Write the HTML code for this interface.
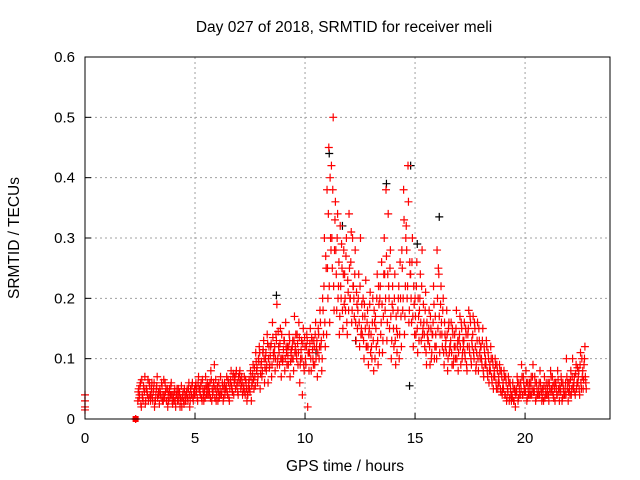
<!DOCTYPE html>
<html><head><meta charset="utf-8"><style>
body{margin:0;background:#fff;}
svg{display:block;font-family:"Liberation Sans",sans-serif;}
</style></head><body>
<svg id="chart" width="640" height="480" viewBox="0 0 640 480">
<text x="344" y="32" font-size="15.5" text-anchor="middle">Day 027 of 2018, SRMTID for receiver meli</text>
<text transform="translate(19,238) rotate(-90)" font-size="15.5" text-anchor="middle">SRMTID / TECUs</text>
<text x="345" y="471" font-size="15.5" text-anchor="middle">GPS time / hours</text>
<g id="grid"></g><g id="ticks"></g><g id="marks"></g>
<rect x="85" y="57" width="525" height="362" fill="none" stroke="#000" stroke-width="1"/>
</svg>
<script>
const xTicks=[0,5,10,15,20];
const yTicks=[0,0.1,0.2,0.3,0.4,0.5,0.6];
const yTickLabels=["0","0.1","0.2","0.3","0.4","0.5","0.6"];
const binHours=[2.4,2.6,2.8,3.0,3.2,3.4,3.6,3.8,4.0,4.2,4.4,4.6,4.8,5.0,5.2,5.4,5.6,5.8,6.0,6.2,6.4,6.6,6.8,7.0,7.2,7.4,7.6,7.8,8.0,8.2,8.4,8.6,8.8,9.0,9.2,9.4,9.6,9.8,10.0,10.2,10.4,10.6,10.8,11.0,11.2,11.4,11.6,11.8,12.0,12.2,12.4,12.6,12.8,13.0,13.2,13.4,13.6,13.8,14.0,14.2,14.4,14.6,14.8,15.0,15.2,15.4,15.6,15.8,16.0,16.2,16.4,16.6,16.8,17.0,17.2,17.4,17.6,17.8,18.0,18.2,18.4,18.6,18.8,19.0,19.2,19.4,19.6,19.8,20.0,20.2,20.4,20.6,20.8,21.0,21.2,21.4,21.6,21.8,22.0,22.2,22.4,22.6];
const binValues=[
[.03,.05,.04,.06,.02],[.04,.03,.05,.07,.03],[.05,.04,.03,.06,.04],[.04,.06,.03,.05,.02],[.03,.05,.07,.04,.04],
[.05,.04,.06,.03,.03],[.04,.06,.05,.03,.02],[.03,.05,.04,.06,.03],[.04,.03,.05,.02,.04],[.03,.05,.04,.02,.03],
[.02,.04,.03,.05,.03],[.04,.05,.03,.06,.02],[.05,.04,.06,.03,.04],[.04,.06,.05,.03,.07],[.05,.04,.06,.03,.05],
[.03,.05,.07,.04,.06],[.05,.04,.06,.08,.03],[.04,.06,.09,.05,.03],[.05,.03,.06,.04,.07],[.04,.06,.03,.05,.04],
[.05,.07,.04,.06,.03],[.06,.08,.05,.07,.04],[.07,.05,.08,.06,.04],[.06,.08,.05,.07,.04],[.05,.07,.04,.06,.03],
[.04,.06,.05,.08,.03],[.06,.09,.05,.07,.11],[.08,.06,.10,.12,.05],[.09,.07,.11,.13,.06],[.10,.08,.14,.06,.12],
[.09,.12,.07,.16,.11],[.11,.08,.14,.19,.10],[.12,.09,.15,.07,.10],[.10,.13,.08,.16,.11],[.12,.09,.14,.07,.11],
[.10,.13,.08,.17,.12],[.11,.14,.09,.16,.06],[.10,.13,.04,.15,.08],[.12,.09,.14,.02,.11],[.11,.15,.08,.13,.10],
[.13,.09,.16,.12,.07],[.15,.10,.18,.12,.08],[.20,.14,.30,.12,.25],[.38,.20,.45,.16,.30],[.42,.25,.50,.18,.33],
[.28,.18,.34,.22,.14],[.32,.20,.25,.15,.28],[.24,.18,.30,.14,.21],[.34,.20,.26,.16,.30],[.22,.17,.28,.13,.19],
[.18,.24,.12,.30,.15],[.14,.20,.10,.17,.23],[.12,.18,.09,.15,.21],[.14,.10,.20,.08,.16],[.17,.12,.24,.09,.19],
[.20,.14,.26,.11,.17],[.30,.18,.38,.13,.24],[.22,.15,.28,.10,.19],[.18,.12,.24,.09,.15],[.14,.20,.10,.26,.17],
[.28,.18,.38,.14,.22],[.32,.20,.42,.16,.26],[.24,.16,.30,.12,.19],[.20,.14,.26,.11,.17],[.18,.24,.13,.28,.15],
[.16,.12,.21,.09,.14],[.13,.18,.09,.15,.11],[.14,.22,.10,.17,.12],[.28,.15,.24,.11,.19],[.16,.12,.20,.09,.14],
[.13,.18,.08,.15,.11],[.12,.16,.09,.14,.10],[.14,.10,.18,.12,.08],[.13,.17,.09,.15,.11],[.12,.16,.10,.14,.08],
[.14,.18,.11,.16,.09],[.12,.17,.10,.15,.08],[.11,.16,.08,.13,.10],[.12,.09,.15,.07,.11],[.10,.13,.08,.11,.06],
[.09,.12,.07,.10,.05],[.08,.10,.06,.09,.05],[.07,.09,.05,.08,.04],[.06,.08,.04,.07,.03],[.05,.07,.03,.06,.04],
[.04,.06,.03,.05,.02],[.05,.07,.03,.06,.04],[.06,.09,.04,.07,.05],[.05,.08,.03,.06,.04],[.06,.04,.07,.05,.09],
[.05,.07,.03,.06,.04],[.04,.06,.08,.05,.03],[.05,.03,.07,.04,.06],[.04,.06,.03,.05,.08],[.05,.07,.04,.06,.03],
[.06,.04,.08,.05,.03],[.05,.07,.03,.06,.04],[.04,.06,.10,.05,.03],[.06,.04,.08,.05,.10],[.05,.07,.04,.09,.06],
[.06,.08,.04,.11,.05],[.07,.05,.09,.12,.06]];
const binValues2=[
[.045,.035,.055,.025,.065],[.035,.055,.045,.025,.05],[.045,.065,.035,.055,.03],[.05,.035,.045,.06,.03],[.04,.055,.035,.045,.025],
[.045,.035,.055,.04,.065],[.035,.045,.03,.05,.04],[.045,.035,.055,.04,.025],[.035,.045,.03,.04,.05],[.04,.03,.045,.035,.055],
[.035,.045,.025,.04,.03],[.045,.035,.05,.04,.03],[.04,.055,.035,.045,.05],[.055,.045,.035,.06,.05],[.045,.055,.035,.065,.04],
[.045,.035,.055,.05,.04],[.055,.045,.035,.065,.05],[.045,.055,.035,.065,.04],[.055,.045,.035,.05,.04],[.045,.055,.035,.06,.05],
[.055,.045,.065,.035,.05],[.065,.055,.045,.075,.06],[.065,.075,.055,.045,.07],[.075,.065,.055,.06,.045],[.055,.045,.065,.05,.04],
[.05,.065,.045,.07,.055],[.075,.065,.085,.055,.095],[.085,.07,.095,.11,.075],[.095,.08,.115,.1,.085],[.11,.09,.125,.1,.085],
[.105,.125,.09,.135,.1],[.12,.1,.13,.09,.145],[.11,.125,.1,.14,.095],[.115,.13,.1,.12,.09],[.105,.12,.13,.095,.115],
[.12,.1,.13,.11,.14],[.1,.125,.11,.135,.09],[.115,.1,.125,.09,.135],[.1,.12,.13,.11,.08],[.125,.1,.135,.115,.09],
[.12,.14,.1,.13,.11],[.14,.12,.16,.13,.1],[.18,.22,.16,.27,.14],[.25,.34,.22,.4,.28],[.3,.38,.22,.28,.36],
[.24,.3,.2,.26,.17],[.22,.29,.18,.24,.19],[.2,.27,.16,.23,.18],[.25,.2,.31,.18,.22],[.2,.24,.16,.21,.15],
[.2,.16,.22,.14,.19],[.17,.13,.19,.15,.12],[.16,.12,.14,.19,.11],[.12,.16,.13,.18,.1],[.15,.2,.13,.22,.11],
[.22,.16,.19,.13,.24],[.24,.2,.27,.16,.34],[.2,.25,.17,.13,.22],[.15,.2,.13,.17,.11],[.18,.22,.14,.2,.12],
[.25,.2,.33,.17,.3],[.28,.22,.36,.18,.24],[.2,.26,.17,.22,.14],[.17,.22,.15,.2,.13],[.2,.16,.22,.14,.19],
[.14,.18,.11,.16,.13],[.15,.12,.17,.1,.14],[.16,.19,.12,.14,.1],[.2,.25,.17,.14,.22],[.14,.18,.11,.16,.12],
[.11,.14,.1,.16,.12],[.13,.11,.15,.09,.12],[.12,.15,.1,.13,.11],[.14,.12,.16,.1,.13],[.13,.11,.15,.09,.12],
[.15,.12,.17,.1,.13],[.14,.11,.16,.12,.09],[.13,.1,.15,.11,.12],[.1,.13,.08,.12,.09],[.09,.12,.07,.1,.08],
[.08,.1,.06,.09,.07],[.07,.09,.05,.08,.06],[.06,.08,.045,.07,.05],[.05,.07,.04,.06,.035],[.045,.06,.035,.05,.03],
[.035,.05,.03,.045,.04],[.045,.06,.035,.05,.04],[.05,.07,.04,.06,.045],[.045,.06,.035,.05,.04],[.05,.06,.04,.07,.045],
[.045,.06,.035,.05,.04],[.05,.04,.06,.045,.035],[.045,.055,.035,.05,.04],[.05,.04,.06,.045,.07],[.045,.055,.035,.05,.06],
[.05,.04,.065,.045,.055],[.045,.06,.035,.05,.04],[.05,.04,.07,.06,.045],[.05,.065,.04,.07,.055],[.06,.045,.075,.05,.085],
[.07,.05,.09,.06,.1],[.08,.065,.1,.07,.05]];
const extraHours=[0,0,0,0,2.3,2.3];
const extraValues=[.04,.02,.03,.015,0,0];
const blackHours=[8.7,11.1,11.7,13.7,14.8,15.1,16.1,14.75,12.3,10.5];
const blackValues=[.205,.44,.32,.39,.42,.29,.335,.055,.13,.11];
const X0=85,X1=610,Y0=419,Y1=57;
const xs=h=>X0+(h/23.86)*(X1-X0);
const ys=v=>Y0-(v/0.6)*(Y0-Y1);
const NS="http://www.w3.org/2000/svg";
const grid=document.getElementById('grid'),ticks=document.getElementById('ticks'),marks=document.getElementById('marks');
function mk(tag,attrs,parent){const e=document.createElementNS(NS,tag);for(const k in attrs)e.setAttribute(k,attrs[k]);parent.appendChild(e);return e;}
xTicks.forEach(t=>{const x=xs(t);
 if(t>0){const g=mk('line',{x1:x,x2:x,y1:Y0,y2:Y1,stroke:'#a0a0a0','stroke-dasharray':'2,3'},grid);
 
 }
 const tk=mk('line',{x1:x,x2:x,y1:Y0,y2:Y0-6,stroke:'#000'},ticks);
 
 
 const l=mk('text',{x:x,y:Y0+24,'font-size':15,'text-anchor':'middle'},ticks);l.textContent=t;
 
 });
yTicks.forEach((t,i)=>{const y=ys(t);
 if(t>0&&t<0.6){const g=mk('line',{x1:X0,x2:X1,y1:y,y2:y,stroke:'#a0a0a0','stroke-dasharray':'2,3'},grid);
 
 }
 const tk=mk('line',{x1:X0,x2:X0+6,y1:y,y2:y,stroke:'#000'},ticks);
 
 
 const l=mk('text',{x:X0-10,y:y+5,'font-size':15,'text-anchor':'end'},ticks);l.textContent=yTickLabels[i];
 
 });
function plus(h,v,color){const x=xs(h),y=ys(v);
 const p=mk('path',{d:`M${x-4},${y}H${x+4}M${x},${y-4}V${y+4}`,stroke:color,'stroke-width':1.2,fill:'none'},marks);
 
 }
blackHours.forEach((h,i)=>plus(h,blackValues[i],'#000'));
binHours.forEach((h,i)=>binValues[i].forEach((v,j)=>plus(h+j*0.04,v,'#f00')));
binHours.forEach((h,i)=>binValues2[i].forEach((v,j)=>plus(h+0.02+j*0.04,v,'#f00')));
extraHours.forEach((h,i)=>plus(h,extraValues[i],'#f00'));
const sq=mk('rect',{x:xs(2.3)-3,y:ys(0)-3,width:6,height:6,fill:'#f00'},marks);


</script>
</body></html>
